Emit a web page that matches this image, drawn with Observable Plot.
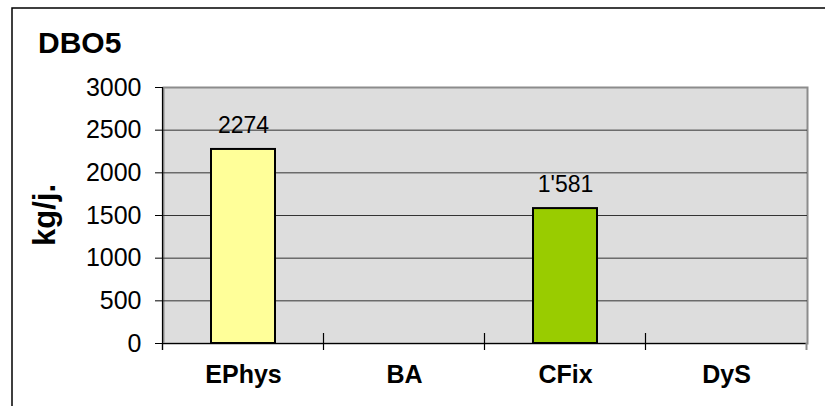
<!DOCTYPE html>
<html>
<head>
<meta charset="utf-8">
<script src="https://cdn.jsdelivr.net/npm/d3@7"></script>
<script src="https://cdn.jsdelivr.net/npm/@observablehq/plot@0.6"></script>
<style>
  html, body { margin: 0; padding: 0; background: white; }
  #chart svg { display: block; }
</style>
</head>
<body>
<div id="chart"></div>
<script>
const title = "DBO5";
const yLabel = "kg/j.";
const categories = ["EPhys", "BA", "CFix", "DyS"];
const values = [2274, null, 1581, null];
const valueLabels = ["2274", "", "1'581", ""];
const barColors = ["#ffff99", "#ffffff", "#99cc00", "#ffffff"];
const yTicks = [0, 500, 1000, 1500, 2000, 2500, 3000];

const data = categories.map((c, i) => ({cat: c, value: values[i], label: valueLabels[i], color: barColors[i]}));
const bars = data.filter(d => d.value != null);
const font = "'Liberation Sans', Arial, sans-serif";

const chart = Plot.plot({
  width: 825,
  height: 406,
  marginLeft: 163,
  marginRight: 18,
  marginTop: 87,
  marginBottom: 63,
  style: {fontFamily: font, background: "white", color: "black"},
  x: {domain: categories, paddingInner: 0.6, paddingOuter: 0.3, align: 0.5},
  y: {domain: [0, 3000]},
  marks: [
    Plot.frame({fill: "#dddddd", stroke: "#8c8c8c", strokeWidth: 2}),
    Plot.gridY(yTicks.filter(t => t > 0 && t < 3000), {stroke: "#333333", strokeOpacity: 1, strokeWidth: 1}),
    Plot.ruleY([0], {stroke: "black", strokeWidth: 1.2}),
    Plot.barY(bars, {x: "cat", y: "value", fill: "color", stroke: "black", strokeWidth: 2}),
    Plot.text(bars, {x: "cat", y: "value", text: "label", dy: -24, fontSize: 23, fill: "black", lineAnchor: "middle"}),
    Plot.axisY(yTicks, {tickSize: 8, tickPadding: 14, fontSize: 25, label: null, stroke: "black", fill: "black", tickFormat: d => String(d)}),
    Plot.axisX({tickSize: 0, tickPadding: 22, fontSize: 25, fontWeight: "bold", label: null, fill: "black"})
  ]
});
document.getElementById("chart").appendChild(chart);

const svg = d3.select(chart);
const xs = chart.scale("x");
const ys = chart.scale("y");
const y0 = ys.apply(0);
const yTop = ys.apply(3000);
const gap = (xs.step - xs.bandwidth) / 2;
const bounds = categories.map(c => xs.apply(c) - gap);
bounds.push(xs.apply(categories[categories.length - 1]) + xs.bandwidth + gap);

// left axis line
svg.append("line")
  .attr("x1", bounds[0]).attr("x2", bounds[0])
  .attr("y1", yTop).attr("y2", y0 + 7)
  .attr("stroke", "black").attr("stroke-width", 1.2);

// category boundary ticks
bounds.forEach((bx, i) => {
  const inner = i > 0 && i < bounds.length - 1;
  svg.append("line")
    .attr("x1", bx).attr("x2", bx)
    .attr("y1", inner ? y0 - 10 : y0).attr("y2", y0 + 7)
    .attr("stroke", i === bounds.length - 1 ? "#8c8c8c" : "black")
    .attr("stroke-width", i === bounds.length - 1 ? 2 : 1.2);
});

// outer frame (left and top)
svg.append("path")
  .attr("d", "M12,406 L12,8 L825,8")
  .attr("fill", "none").attr("stroke", "black").attr("stroke-width", 1.5);

// title
svg.append("text")
  .attr("x", 38).attr("y", 53)
  .attr("text-anchor", "start")
  .attr("font-family", font).attr("font-size", 30).attr("font-weight", "bold")
  .attr("fill", "black")
  .text(title);

// y label
svg.append("text")
  .attr("transform", `translate(55,${(y0 + yTop) / 2}) rotate(-90)`)
  .attr("text-anchor", "middle")
  .attr("font-family", font).attr("font-size", 31).attr("font-weight", "bold")
  .attr("fill", "black")
  .text(yLabel);
</script>
</body>
</html>
